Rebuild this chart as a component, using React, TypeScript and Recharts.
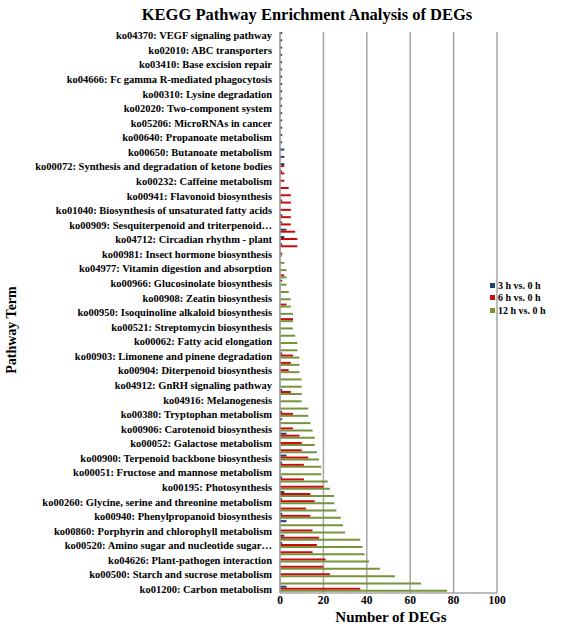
import React from 'react'
import { BarChart, Bar, XAxis, YAxis, CartesianGrid } from 'recharts'

// every other pathway is labelled on the axis (Excel skipped the rest)
const labels = [
  'ko04370: VEGF signaling pathway',
  'ko02010: ABC transporters',
  'ko03410: Base excision repair',
  'ko04666: Fc gamma R-mediated phagocytosis',
  'ko00310: Lysine degradation',
  'ko02020: Two-component system',
  'ko05206: MicroRNAs in cancer',
  'ko00640: Propanoate metabolism',
  'ko00650: Butanoate metabolism',
  'ko00072: Synthesis and degradation of ketone bodies',
  'ko00232: Caffeine metabolism',
  'ko00941: Flavonoid biosynthesis',
  'ko01040: Biosynthesis of unsaturated fatty acids',
  'ko00909: Sesquiterpenoid and triterpenoid…',
  'ko04712: Circadian rhythm - plant',
  'ko00981: Insect hormone biosynthesis',
  'ko04977: Vitamin digestion and absorption',
  'ko00966: Glucosinolate biosynthesis',
  'ko00908: Zeatin biosynthesis',
  'ko00950: Isoquinoline alkaloid biosynthesis',
  'ko00521: Streptomycin biosynthesis',
  'ko00062: Fatty acid elongation',
  'ko00903: Limonene and pinene degradation',
  'ko00904: Diterpenoid biosynthesis',
  'ko04912: GnRH signaling pathway',
  'ko04916: Melanogenesis',
  'ko00380: Tryptophan metabolism',
  'ko00906: Carotenoid biosynthesis',
  'ko00052: Galactose metabolism',
  'ko00900: Terpenoid backbone biosynthesis',
  'ko00051: Fructose and mannose metabolism',
  'ko00195: Photosynthesis',
  'ko00260: Glycine, serine and threonine metabolism',
  'ko00940: Phenylpropanoid biosynthesis',
  'ko00860: Porphyrin and chlorophyll metabolism',
  'ko00520: Amino sugar and nucleotide sugar…',
  'ko04626: Plant-pathogen interaction',
  'ko00500: Starch and sucrose metabolism',
  'ko01200: Carbon metabolism',
]

// values top to bottom, 77 rows
const h3 = [
  1, 1, 1, 1, 1, 1, 1, 1, 1, 1, 1, 1, 1, 1, 1, 1,
  2, 2, 2, 1, 0, 0, 0, 1, 0, 1, 1, 3, 2, 1,
  0, 0, 0, 0, 1, 0, 0, 0, 0, 0, 0, 0, 0, 0,
  1, 0, 0, 0, 0, 1, 0, 0, 1, 1, 0, 3, 0, 0,
  3, 1, 0, 1, 0, 2, 1, 0, 1, 3, 0, 2, 1, 0,
  0, 0, 0, 0, 3,
]
const h6 = [
  0, 0, 0, 0, 0, 0, 0, 0, 0, 0, 0, 0, 0, 0, 0, 0,
  0, 0, 2, 2, 2, 4, 5, 5, 5, 5, 5, 7, 8, 8,
  1, 0, 0, 2, 0, 0, 0, 3, 0, 6, 0, 0, 0, 0,
  6, 5, 4, 0, 0, 5, 0, 0, 6, 0, 6, 9, 10, 10,
  13, 11, 0, 11, 20, 14, 16, 12, 14, 0, 15, 18, 17, 15,
  21, 20, 23, 0, 37,
]
const h12 = [
  0, 0, 0, 0, 0, 0, 0, 0, 0, 0, 0, 0, 0, 0, 0, 0,
  0, 0, 0, 0, 0, 0, 0, 0, 0, 0, 0, 0, 0, 0,
  1, 2, 3, 3, 3, 4, 5, 5, 6, 6, 6, 7, 8, 8,
  9, 9, 9, 10, 10, 10, 10, 13, 13, 14, 15, 16, 16, 17,
  18, 19, 19, 22, 23, 25, 25, 26, 28, 29, 30, 37, 38, 39,
  41, 46, 53, 65, 77,
]

const xTicks = [0, 20, 40, 60, 80, 100]
const seriesNames = ['3 h vs. 0 h', '6 h vs. 0 h', '12 h vs. 0 h']
const colors = ['#24406E', '#CC0A0A', '#77933C']

const terms = h3.map((_, i) => (i % 2 === 0 ? labels[i / 2] : ''))
const data = h3.map((v, i) => ({ idx: i, h3: v, h6: h6[i], h12: h12[i] }))

const serif = '"Liberation Serif", "Times New Roman", serif'

// plain svg text so long pathway names stay on one line
function TermTick(props: any) {
  const { x, y, payload } = props
  const t = terms[payload.value]
  if (!t) return null
  return (
    <text x={x} y={y} dy={3.6} textAnchor="end" fontSize={10.5} fontWeight="bold" fontFamily={serif} fill="#000">
      {t}
    </text>
  )
}

export default function App() {
  return (
    <div style={{ position: 'absolute', left: 0, top: 0, width: 567, height: 631, background: '#fff', fontFamily: serif }}>
      <div style={{ position: 'absolute', left: 0, width: 614, top: 5, textAlign: 'center', fontWeight: 'bold', fontSize: 16.5 }}>
        KEGG Pathway Enrichment Analysis of DEGs
      </div>
      <div
        style={{
          position: 'absolute', left: 12, top: 330, transform: 'translate(-50%, -50%) rotate(-90deg)',
          whiteSpace: 'nowrap', fontWeight: 'bold', fontSize: 14,
        }}
      >
        Pathway Term
      </div>
      <div style={{ position: 'absolute', left: 291, width: 200, top: 609, textAlign: 'center', fontWeight: 'bold', fontSize: 15 }}>
        Number of DEGs
      </div>

      <BarChart
        width={567}
        height={631}
        data={data}
        layout="vertical"
        margin={{ top: 32, right: 70, bottom: 0, left: 0 }}
        barCategoryGap={0}
        barGap={0}
      >
        <CartesianGrid horizontal={false} stroke="#A6A6A6" strokeWidth={1.5} />
        <XAxis
          type="number"
          domain={[0, 100]}
          ticks={xTicks}
          height={38}
          tickLine={false}
          tickSize={2}
          tickMargin={1}
          axisLine={{ stroke: '#A6A6A6', strokeWidth: 1.5 }}
          tick={{ fontSize: 11.5, fontWeight: 'bold', fill: '#000', fontFamily: serif }}
        />
        <YAxis
          type="category"
          dataKey="idx"
          width={280}
          interval={0}
          tickLine={false}
          axisLine={{ stroke: '#A6A6A6', strokeWidth: 1.5 }}
          tick={<TermTick />}
        />
        <Bar dataKey="h3" name={seriesNames[0]} fill={colors[0]} isAnimationActive={false} />
        <Bar dataKey="h6" name={seriesNames[1]} fill={colors[1]} isAnimationActive={false} />
        <Bar dataKey="h12" name={seriesNames[2]} fill={colors[2]} isAnimationActive={false} />
      </BarChart>

      <div style={{ position: 'absolute', left: 490, top: 279, fontWeight: 'bold', fontSize: 10 }}>
        {seriesNames.map((n, i) => (
          <div key={n} style={{ display: 'flex', alignItems: 'center', height: 12.5 }}>
            <span style={{ width: 5, height: 5, background: colors[i], marginRight: 3 }} />
            {n}
          </div>
        ))}
      </div>
    </div>
  )
}
